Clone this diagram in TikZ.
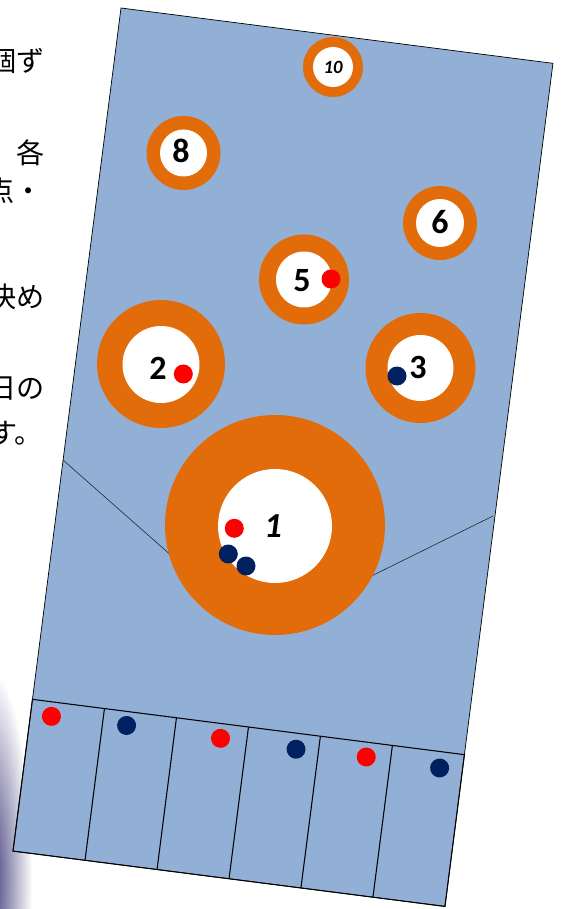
\documentclass[tikz,border=0pt]{standalone}
\usepackage{fontspec}
\setmainfont{Carlito}
\newfontfamily\jpfont{Noto Sans CJK JP}
\usetikzlibrary{fadings}
\definecolor{boardblue}{RGB}{146,176,213}
\definecolor{ringorange}{RGB}{226,107,10}
\definecolor{stonered}{RGB}{255,0,0}
\definecolor{stonenavy}{RGB}{0,32,96}
\definecolor{photopurple}{RGB}{64,58,120}
\tikzfading[name=photoblur, inner color=transparent!0, outer color=transparent!100]
\tikzset{
  board/.style={fill=boardblue, draw=black, line width=0.6pt},
  lane/.style={draw=black, line width=0.9pt},
  ring/.style={fill=ringorange},
  hole/.style={fill=white},
  redstone/.style={fill=stonered},
  navystone/.style={fill=stonenavy},
  points/.style={font=\fontsize{29}{29}\selectfont\bfseries, inner sep=0pt},
  jptext/.style={font=\jpfont\fontsize{24}{24}\selectfont, anchor=east, inner sep=0pt},
  guide/.style={draw=black!85, line width=0.5pt}
}

\begin{document}
\begin{tikzpicture}[x=0.03cm, y=-0.03cm]
  \useasboundingbox (0,0) rectangle (562,909);
  \clip (0,0) rectangle (562,909);

  % Text beside the board, cut at the page edge
  \node[jptext] (txta) at (45,61) {個ず};
  \node[jptext] (txtb) at (45,153) {各};
  \node[jptext] (txtc) at (43,191) {点・};
  \node[jptext] (txtd) at (45,297) {決め};
  \node[jptext] (txte) at (45,389) {日の};
  \node[jptext] (txtf) at (43,433) {す。};

  % Photo edge, bottom left (blurred)
  \fill[photopurple, path fading=photoblur] (-10,880) ellipse [x radius=42, y radius=210];

  % Board
  \begin{scope}[shift={(121,8)}, rotate=-7.3]
    \draw[board] (0,0) rectangle (435.5,850);
    % Scoring lanes
    \draw[lane] (0,697) rectangle (435.5,850);
    \draw[lane] (72.6,697) -- (72.6,850);
    \draw[lane] (145.2,697) -- (145.2,850);
    \draw[lane] (217.8,697) -- (217.8,850);
    \draw[lane] (290.3,697) -- (290.3,850);
    \draw[lane] (362.9,697) -- (362.9,850);
    % Stones in the lanes
    \fill[redstone] (21,711.5) circle[radius=9.5];
    \fill[navystone] (96.7,711) circle[radius=9.5];
    \fill[redstone] (191.5,711.8) circle[radius=9.5];
    \fill[navystone] (267.8,713) circle[radius=9.5];
    \fill[redstone] (338.4,711.8) circle[radius=9.5];
    \fill[navystone] (412.6,713.4) circle[radius=9.5];
  \end{scope}

  % Guide lines
  \coordinate (gleft) at (63,460);
  \coordinate (gright) at (493,516);
  \coordinate (apex) at (258,632);
  \draw[guide] (gleft) -- (apex) -- (gright);

  % Targets
  \fill[ring] (275,525) circle[radius=110];
  \fill[hole] (275,526) circle[radius=57];
  \node[points, font=\fontsize{30}{30}\selectfont\bfseries\itshape] (t1) at (273,526) {1};

  \fill[ring] (161,364) circle[radius=64];
  \fill[hole] (161,364.5) circle[radius=38.5];
  \node[points] (t2) at (158,368) {2};

  \fill[ring] (420.5,368) circle[radius=55];
  \fill[hole] (420.5,368) circle[radius=33];
  \node[points] (t3) at (418,367) {3};

  \fill[ring] (304,279.5) circle[radius=45];
  \fill[hole] (304,279.5) circle[radius=28];
  \node[points] (t5) at (302,281) {5};

  \fill[ring] (440,223) circle[radius=37];
  \fill[hole] (440,223) circle[radius=24];
  \node[points] (t6) at (440,222) {6};

  \fill[ring] (183.5,153) circle[radius=37];
  \fill[hole] (183.5,153) circle[radius=23.5];
  \node[points] (t8) at (181,151) {8};

  \fill[ring] (333,67) circle[radius=30];
  \fill[hole] (333,67) circle[radius=20];
  \node[points, font=\fontsize{16}{16}\selectfont\bfseries\itshape] (t10) at (333,67) {10};

  % Stones on the targets
  \fill[redstone] (183.3,374) circle[radius=9.5];
  \fill[redstone] (331,279) circle[radius=9.5];
  \fill[navystone] (397,376) circle[radius=9.5];
  \fill[redstone] (234.3,528.3) circle[radius=9.5];
  \fill[navystone] (228.3,554) circle[radius=9.5];
  \fill[navystone] (246,566) circle[radius=9.5];
\end{tikzpicture}
\end{document}
